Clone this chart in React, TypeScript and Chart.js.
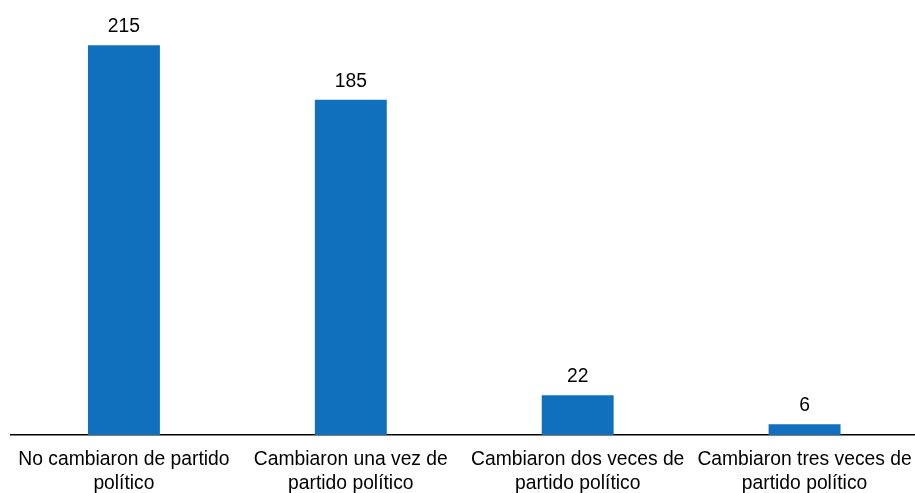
import React, { useEffect, useRef } from "react";
import { Chart, registerables } from "chart.js";

Chart.register(...registerables);

const categories: string[][] = [
  ["No cambiaron de partido", "político"],
  ["Cambiaron una vez de", "partido político"],
  ["Cambiaron dos veces de", "partido político"],
  ["Cambiaron tres veces de", "partido político"],
];
const values: number[] = [215, 185, 22, 6];
const yMax = 240;

const FONT = "'Liberation Sans', Arial, sans-serif";
const BAR_COLOR = "#1170be";

const valueLabels = {
  id: "valueLabels",
  afterDatasetsDraw(chart: any) {
    const ctx = chart.ctx;
    const meta = chart.getDatasetMeta(0);
    ctx.save();
    ctx.font = `19.3px ${FONT}`;
    ctx.fillStyle = "#000";
    ctx.textAlign = "center";
    ctx.textBaseline = "alphabetic";
    meta.data.forEach((bar: any, i: number) => {
      ctx.fillText(String(values[i]), bar.x, bar.y - 13);
    });
    ctx.restore();
  },
};

export default function App() {
  const ref = useRef<HTMLCanvasElement | null>(null);
  useEffect(() => {
    if (!ref.current) return;
    const chart = new Chart(ref.current, {
      type: "bar",
      data: {
        labels: categories,
        datasets: [
          {
            data: values,
            backgroundColor: BAR_COLOR,
            borderWidth: 0,
            categoryPercentage: 1,
            barPercentage: 0.317,
          },
        ],
      },
      options: {
        responsive: false,
        animation: false,
        devicePixelRatio: 1,
        layout: { padding: { left: 10.5, right: 0, top: 0, bottom: 0 } },
        plugins: {
          legend: { display: false },
          tooltip: { enabled: false },
        },
        scales: {
          x: {
            grid: { display: false, drawTicks: true, tickLength: 13 },
            border: { display: true, color: "#000", width: 1.6 },
            ticks: {
              color: "#000",
              padding: 0,
              maxRotation: 0,
              autoSkip: false,
              font: { family: FONT, size: 19.3, lineHeight: 1.22 },
            },
            afterFit: (scale: any) => {
              scale.height = 58;
              scale.paddingLeft = 0;
              scale.paddingRight = 0;
            },
          },
          y: {
            display: false,
            min: 0,
            max: yMax,
          },
        },
      },
      plugins: [valueLabels],
    });
    return () => chart.destroy();
  }, []);
  return (
    <div
      style={{
        position: "fixed",
        left: 0,
        top: 0,
        width: 915,
        height: 493,
        overflow: "hidden",
        background: "#fff",
      }}
    >
      <canvas ref={ref} width={918} height={493} style={{ display: "block" }} />
    </div>
  );
}
